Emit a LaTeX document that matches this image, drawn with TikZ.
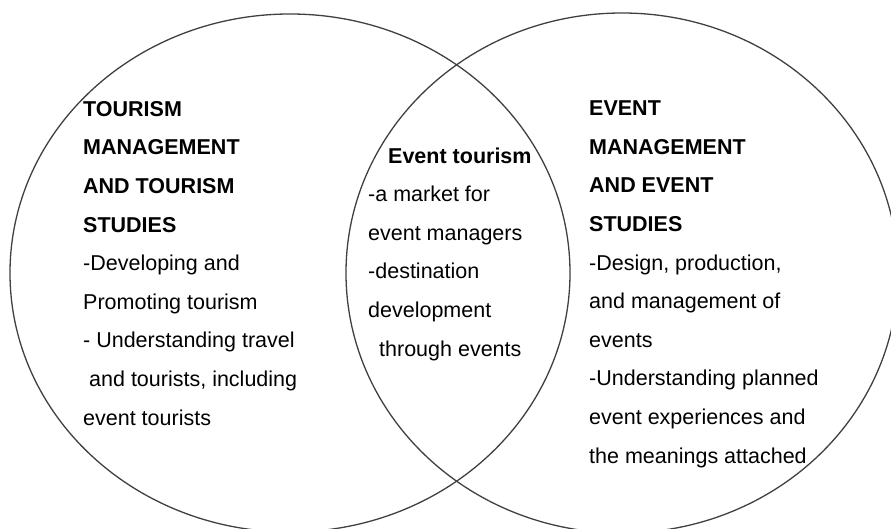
\documentclass[tikz,border=0pt]{standalone}
\usepackage{fontspec}
\setmainfont{Liberation Sans}
\usetikzlibrary{shapes.geometric}
\begin{document}
\begin{tikzpicture}[x=1pt,y=-1pt]
        \useasboundingbox (0,0) rectangle (891,529);
        \clip (0,0) rectangle (891,529);

        \begin{scope}[every node/.style={ellipse, draw=black!75, line width=1.3pt, inner sep=0pt}]
          \node[minimum width=560pt, minimum height=518pt] (tourismset) at (290,273) {};
          \node[minimum width=552pt, minimum height=520pt] (eventset)   at (622,273) {};
        \end{scope}

        % placed by the baseline of each last line
        \begin{scope}[every node/.style={anchor=base west, inner sep=0pt, align=left,
                      font=\fontsize{21.5}{38.6}\selectfont}]
          \node (tourism) at (83,425) {\textbf{TOURISM}\\\textbf{MANAGEMENT}\\
            \textbf{AND TOURISM}\\\textbf{STUDIES}\\-Developing and\\Promoting tourism\\
            - Understanding travel\\\hspace{6pt}and tourists, including\\event tourists};
          \node (overlap) at (368,356) {\hspace{20pt}\textbf{Event tourism}\\-a market for\\
            event managers\\-destination\\development\\\hspace{11pt}through events};
          \node (event) at (589,463) {\textbf{EVENT}\\\textbf{MANAGEMENT}\\
            \textbf{AND EVENT}\\\textbf{STUDIES}\\-Design, production,\\and management of\\
            events\\-Understanding planned\\event experiences and\\the meanings attached};
        \end{scope}

      \end{tikzpicture}
\end{document}
